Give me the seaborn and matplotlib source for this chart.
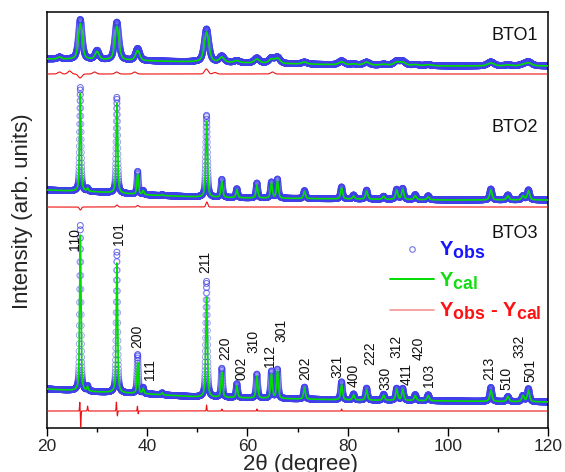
import numpy as np
import pandas as pd
import matplotlib
matplotlib.use("Agg")
import matplotlib.pyplot as plt
import matplotlib._mathtext as _mt
import seaborn as sns
from matplotlib.lines import Line2D
from matplotlib.ticker import MultipleLocator

sns.set_theme(style="white")
plt.rcParams["font.family"] = ["Liberation Sans", "DejaVu Sans"]
plt.rcParams["mathtext.fontset"] = "custom"
plt.rcParams["mathtext.rm"] = "Liberation Sans"
plt.rcParams["mathtext.bf"] = "Liberation Sans:bold"
plt.rcParams["mathtext.it"] = "Liberation Sans:italic"
_mt.SHRINK_FACTOR = 0.88  # larger subscripts, as in the reference legend

# ---------------- data (pixel-like intensity units) -------------
samples = ["BTO1", "BTO2", "BTO3"]

peak_2theta = [22.5, 26.65, 28.1, 30.0, 33.95, 38.1, 39.2, 43.0, 51.85, 54.9, 57.9,
               61.9, 64.8, 66.0, 71.4, 78.8, 81.2, 83.8, 87.2, 89.8, 91.0, 93.5,
               96.1, 108.6, 112.0, 115.0, 116.1]

# calculated peak heights above background
h_cal_bto1 = [2, 36, 0, 8, 34, 10, 0, 0, 30, 5, 2, 4, 4, 5, 2, 3, 1, 3, 1, 3, 3, 1,
              1, 3, 1, 1, 3]
h_cal_bto2 = [0, 98, 3, 0, 90, 20, 4, 1, 76, 16, 8, 13, 15, 17, 7, 11, 3, 8, 3, 9, 10,
              4, 3, 10, 4, 4, 9]
h_cal_bto3 = [0, 156, 4, 0, 130, 31, 5, 2, 100, 25, 12, 22, 24, 27, 11, 15, 5, 10, 5,
              11, 11, 5, 5, 11, 5, 6, 11]
# observed peak heights above background
h_obs_bto1 = [2, 40, 0, 9, 38, 12, 0, 0, 33, 6, 2, 5, 5, 6, 2, 4, 1, 3, 1, 4, 4, 1,
              1, 4, 1, 1, 4]
h_obs_bto2 = [0, 104, 3, 0, 96, 23, 4, 1, 82, 18, 9, 15, 16, 19, 8, 12, 4, 9, 3, 10,
              11, 5, 4, 11, 5, 4, 10]
h_obs_bto3 = [0, 166, 5, 0, 141, 39, 6, 2, 116, 29, 14, 24, 27, 29, 12, 18, 6, 12, 6,
              12, 12, 6, 6, 14, 5, 6, 13]

fwhm_bto = [0.85, 0.32, 0.30]

# background levels (intensity units) at a few angles
bkg_2theta = [20, 30, 40, 50, 60, 80, 100, 120]
bkg_bto1 = [369, 368, 367, 366, 365, 363, 362, 362]
bkg_bto2 = [238, 236, 233, 231, 230, 229, 228, 228]
bkg_bto3 = [39, 36, 34, 31, 30, 28, 27, 26]

# difference curve level and its visible features
diff_level = [354, 221, 17]
diff_pos_bto1 = [22.5, 24.5, 26.6, 29.5, 33.9, 37.5, 51.8, 53.5, 65.0]
diff_amp_bto1 = [2, 3, -4, 2, 2, 2, 5, 1.5, 2]
diff_pos_bto2 = [26.65, 33.95, 38.1, 51.9]
diff_amp_bto2 = [-3, 2, 1.5, 5]
diff_pos_bto3 = [26.55, 26.72, 28.1, 33.85, 34.05, 38.05, 38.2, 51.85, 54.9, 61.9, 78.8]
diff_amp_bto3 = [9, -16, 5, 9, -5, 5, -3, 6, 2, 2, 2]

hkl_labels = ["110", "101", "200", "111", "211", "220", "002", "310", "112", "301",
              "202", "321", "400", "222", "330", "312", "411", "420", "103", "213",
              "510", "332", "501"]

x_min, x_max = 20, 120

# ---------------- build curves ----------------
tt = np.arange(x_min, x_max + 1e-9, 0.02)
pos = np.array(peak_2theta)


def profile(heights, fwhm):
    out = np.zeros_like(tt)
    for p, h in zip(pos, heights):
        if h == 0:
            continue
        w = fwhm * (1 + 0.9 * (p - 20) / 100)
        g = np.exp(-4 * np.log(2) * ((tt - p) / w) ** 2)
        l = 1 / (1 + 4 * ((tt - p) / w) ** 2)
        out += h * (0.45 * g + 0.55 * l)
    return out


def diff_curve(level, dpos, damp, width):
    out = np.full_like(tt, float(level))
    for p, a in zip(dpos, damp):
        out += a * np.exp(-0.5 * ((tt - p) / width) ** 2)
    return out


h_cal = [h_cal_bto1, h_cal_bto2, h_cal_bto3]
h_obs = [h_obs_bto1, h_obs_bto2, h_obs_bto3]
bkgs = [bkg_bto1, bkg_bto2, bkg_bto3]
dps = [diff_pos_bto1, diff_pos_bto2, diff_pos_bto3]
das = [diff_amp_bto1, diff_amp_bto2, diff_amp_bto3]
dwid = [0.35, 0.2, 0.06]

frames = []
for i, s in enumerate(samples):
    b = np.interp(tt, bkg_2theta, bkgs[i])
    frames.append(pd.DataFrame({
        "sample": s, "tt": tt,
        "obs": b + profile(h_obs[i], fwhm_bto[i]),
        "cal": b + profile(h_cal[i], fwhm_bto[i]),
        "diff": diff_curve(diff_level[i], dps[i], das[i], dwid[i]),
    }))
df = pd.concat(frames, ignore_index=True)

# ---------------- plot ----------------
fig = plt.figure(figsize=(5.65, 4.72), dpi=100)
ax = fig.add_axes([47 / 565, 44 / 472, 501 / 565, 416 / 472])

obs_col = (0.25, 0.25, 0.92)
cal_col = "#00dd00"
diff_col = "#ee1111"

for s in samples:
    d = df[df["sample"] == s]
    sns.scatterplot(data=d, x="tt", y="obs", ax=ax, s=18, marker="o",
                    facecolor="none", edgecolor=obs_col, linewidth=0.6,
                    alpha=0.55, legend=False, zorder=2)
    sns.lineplot(data=d, x="tt", y="cal", ax=ax, color=cal_col, lw=1.2,
                 estimator=None, legend=False, zorder=3)
    sns.lineplot(data=d, x="tt", y="diff", ax=ax, color=diff_col, lw=0.8,
                 estimator=None, legend=False, zorder=3)

ax.set_xlim(x_min, x_max)
ax.set_ylim(0, 416)
ax.set_yticks([])
ax.xaxis.set_major_locator(MultipleLocator(20))
ax.xaxis.set_minor_locator(MultipleLocator(10))
ax.tick_params(axis="x", which="major", direction="out", length=5.5, width=1,
               labelsize=12.5, pad=2.5, bottom=True, color="black")
ax.tick_params(axis="x", which="minor", direction="out", length=3, width=1,
               bottom=True, color="black")
for sp in ax.spines.values():
    sp.set_color("black")
    sp.set_linewidth(1.1)

ax.set_xlabel("2θ (degree)", fontsize=16)
ax.set_ylabel("Intensity (arb. units)", fontsize=16)
ax.xaxis.set_label_coords(0.505, -0.062)
ax.yaxis.set_label_coords(-0.027, 0.522)

# sample names
name_y = [393, 301, 194]
for s, y in zip(samples, name_y):
    ax.text(113.4, y, s, fontsize=13, ha="center", va="center", color="#111111")

# hkl labels (layout: x in degrees, bottom of text in intensity units)
hkl_x = [25.6, 34.4, 38.0, 40.6, 51.5, 55.5, 58.9, 61.1, 64.5, 66.8, 71.5, 77.9,
         81.3, 84.6, 87.5, 89.8, 91.7, 94.1, 96.3, 108.3, 111.7, 114.3, 116.5]
hkl_y = [178, 183, 80, 48, 155, 68, 48, 75, 61, 86, 48, 50, 41, 63, 38, 70, 43,
         68, 41, 48, 38, 70, 46]
for lab, x, y in zip(hkl_labels, hkl_x, hkl_y):
    ax.text(x, y, lab, rotation=90, fontsize=10, ha="center", va="bottom",
            color="#111111")

handles = [
    Line2D([], [], marker="o", linestyle="none", markersize=4,
           markerfacecolor="none", markeredgecolor=(0.45, 0.45, 0.9), mew=0.8),
    Line2D([], [], color=cal_col, lw=1.4),
    Line2D([], [], color=diff_col, lw=1.2, alpha=0.45),
]
labels = [r"$\mathbf{Y_{obs}}$", r"$\mathbf{Y_{cal}}$",
          r"$\mathbf{Y_{obs}}$ - $\mathbf{Y_{cal}}$"]
leg = ax.legend(handles, labels, loc="upper left",
                bbox_to_anchor=((390 - 47) / 501, (428 - 240) / 416),
                frameon=False, handlelength=2.2,
                handletextpad=0.25, labelspacing=0.45, borderpad=0,
                borderaxespad=0, labelcolor=["#1515ff", "#11dd11", "#ff1111"],
                prop={"weight": "bold", "size": 14.5})

fig.savefig("out.png", dpi=100)
